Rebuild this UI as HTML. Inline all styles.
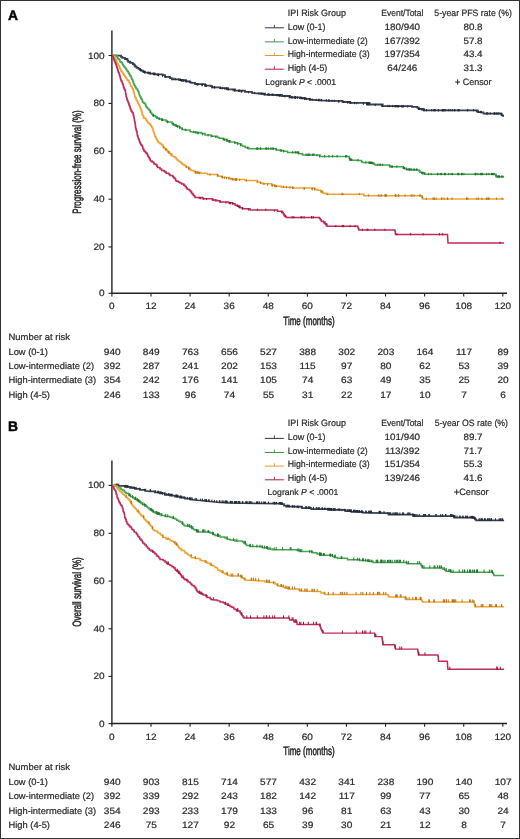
<!DOCTYPE html>
<html><head><meta charset="utf-8"><title>Kaplan-Meier curves by IPI risk group</title>
<style>html,body{margin:0;padding:0;background:#fff;} body{width:520px;height:839px;overflow:hidden;font-family:"Liberation Sans", sans-serif;} svg{display:block;filter:blur(0.3px);} text{text-rendering:geometricPrecision;}</style>
</head><body>
<svg width="520" height="839" viewBox="0 0 520 839" font-family='"Liberation Sans", sans-serif' fill="#2b2b2b" stroke="#2b2b2b" stroke-width="0.22">
<rect x="0" y="0" width="520" height="839" fill="#fff" stroke="none"/>
<text x="8" y="20.2" font-size="13.8" font-weight="bold" fill="#000" stroke="#000" stroke-width="0.45">A</text>
<line x1="111.9" y1="30.6" x2="111.9" y2="294.1" stroke="#222" stroke-width="1.4"/>
<line x1="111.2" y1="293.3" x2="507" y2="293.3" stroke="#222" stroke-width="1.5"/>
<line x1="108.5" y1="55.50" x2="111.9" y2="55.50" stroke="#222" stroke-width="1.1"/>
<text transform="translate(104.60 58.50) scale(1.09 1)" font-size="9.2" text-anchor="end">100</text>
<line x1="108.5" y1="103.45" x2="111.9" y2="103.45" stroke="#222" stroke-width="1.1"/>
<text transform="translate(104.60 106.45) scale(1.09 1)" font-size="9.2" text-anchor="end">80</text>
<line x1="108.5" y1="151.35" x2="111.9" y2="151.35" stroke="#222" stroke-width="1.1"/>
<text transform="translate(104.60 154.35) scale(1.09 1)" font-size="9.2" text-anchor="end">60</text>
<line x1="108.5" y1="199.20" x2="111.9" y2="199.20" stroke="#222" stroke-width="1.1"/>
<text transform="translate(104.60 202.20) scale(1.09 1)" font-size="9.2" text-anchor="end">40</text>
<line x1="108.5" y1="246.95" x2="111.9" y2="246.95" stroke="#222" stroke-width="1.1"/>
<text transform="translate(104.60 249.95) scale(1.09 1)" font-size="9.2" text-anchor="end">20</text>
<line x1="108.5" y1="293.30" x2="111.9" y2="293.30" stroke="#222" stroke-width="1.1"/>
<text transform="translate(104.60 296.30) scale(1.09 1)" font-size="9.2" text-anchor="end">0</text>
<line x1="111.90" y1="293.3" x2="111.90" y2="296.5" stroke="#222" stroke-width="1.1"/>
<text transform="translate(111.90 309.20) scale(1.09 1)" font-size="9.2" text-anchor="middle">0</text>
<line x1="150.99" y1="293.3" x2="150.99" y2="296.5" stroke="#222" stroke-width="1.1"/>
<text transform="translate(150.99 309.20) scale(1.09 1)" font-size="9.2" text-anchor="middle">12</text>
<line x1="190.08" y1="293.3" x2="190.08" y2="296.5" stroke="#222" stroke-width="1.1"/>
<text transform="translate(190.08 309.20) scale(1.09 1)" font-size="9.2" text-anchor="middle">24</text>
<line x1="229.17" y1="293.3" x2="229.17" y2="296.5" stroke="#222" stroke-width="1.1"/>
<text transform="translate(229.17 309.20) scale(1.09 1)" font-size="9.2" text-anchor="middle">36</text>
<line x1="268.26" y1="293.3" x2="268.26" y2="296.5" stroke="#222" stroke-width="1.1"/>
<text transform="translate(268.26 309.20) scale(1.09 1)" font-size="9.2" text-anchor="middle">48</text>
<line x1="307.35" y1="293.3" x2="307.35" y2="296.5" stroke="#222" stroke-width="1.1"/>
<text transform="translate(307.35 309.20) scale(1.09 1)" font-size="9.2" text-anchor="middle">60</text>
<line x1="346.44" y1="293.3" x2="346.44" y2="296.5" stroke="#222" stroke-width="1.1"/>
<text transform="translate(346.44 309.20) scale(1.09 1)" font-size="9.2" text-anchor="middle">72</text>
<line x1="385.53" y1="293.3" x2="385.53" y2="296.5" stroke="#222" stroke-width="1.1"/>
<text transform="translate(385.53 309.20) scale(1.09 1)" font-size="9.2" text-anchor="middle">84</text>
<line x1="424.62" y1="293.3" x2="424.62" y2="296.5" stroke="#222" stroke-width="1.1"/>
<text transform="translate(424.62 309.20) scale(1.09 1)" font-size="9.2" text-anchor="middle">96</text>
<line x1="463.71" y1="293.3" x2="463.71" y2="296.5" stroke="#222" stroke-width="1.1"/>
<text transform="translate(463.71 309.20) scale(1.09 1)" font-size="9.2" text-anchor="middle">108</text>
<line x1="502.80" y1="293.3" x2="502.80" y2="296.5" stroke="#222" stroke-width="1.1"/>
<text transform="translate(502.80 309.20) scale(1.09 1)" font-size="9.2" text-anchor="middle">120</text>
<text transform="translate(309.00 324.90) scale(0.668 1)" font-size="12.0" text-anchor="middle" stroke="#262626" stroke-width="0.5">Time (months)</text>
<text transform="translate(80.9 162.0) rotate(-90) scale(0.668 1)" text-anchor="middle" font-size="12.0" stroke="#262626" stroke-width="0.5">Progression-free survival (%)</text>
<text transform="translate(287.70 16.00) scale(0.975 1)" font-size="9.2">IPI Risk Group</text>
<text transform="translate(402.30 15.60) scale(0.925 1)" font-size="9.2" text-anchor="middle">Event/Total</text>
<text transform="translate(473.10 15.60) scale(0.95 1)" font-size="9.2" text-anchor="middle">5-year PFS rate (%)</text>
<line x1="264.8" y1="27.80" x2="283.8" y2="27.80" stroke="#2f3646" stroke-width="1.0"/>
<line x1="274.4" y1="27.80" x2="274.4" y2="24.80" stroke="#2f3646" stroke-width="0.9"/>
<text transform="translate(287.70 29.90) scale(0.975 1)" font-size="9.2">Low (0-1)</text>
<text transform="translate(402.30 29.90) scale(1.07 1)" font-size="9.2" text-anchor="middle">180/940</text>
<text transform="translate(473.00 29.90) scale(1.07 1)" font-size="9.2" text-anchor="middle">80.8</text>
<line x1="264.8" y1="41.90" x2="283.8" y2="41.90" stroke="#3f9247" stroke-width="1.0"/>
<line x1="274.4" y1="41.90" x2="274.4" y2="38.90" stroke="#3f9247" stroke-width="0.9"/>
<text transform="translate(287.70 43.50) scale(0.95 1)" font-size="9.2">Low-intermediate (2)</text>
<text transform="translate(402.30 43.50) scale(1.07 1)" font-size="9.2" text-anchor="middle">167/392</text>
<text transform="translate(473.00 43.50) scale(1.07 1)" font-size="9.2" text-anchor="middle">57.8</text>
<line x1="264.8" y1="55.50" x2="283.8" y2="55.50" stroke="#e09a3a" stroke-width="1.0"/>
<line x1="274.4" y1="55.50" x2="274.4" y2="52.50" stroke="#e09a3a" stroke-width="0.9"/>
<text transform="translate(287.70 57.10) scale(0.95 1)" font-size="9.2">High-intermediate (3)</text>
<text transform="translate(402.30 57.10) scale(1.07 1)" font-size="9.2" text-anchor="middle">197/354</text>
<text transform="translate(473.00 57.10) scale(1.07 1)" font-size="9.2" text-anchor="middle">43.4</text>
<line x1="264.8" y1="69.20" x2="283.8" y2="69.20" stroke="#b01e48" stroke-width="1.0"/>
<line x1="274.4" y1="69.20" x2="274.4" y2="66.20" stroke="#b01e48" stroke-width="0.9"/>
<text transform="translate(287.70 70.70) scale(0.97 1)" font-size="9.2">High (4-5)</text>
<text transform="translate(402.30 70.70) scale(1.07 1)" font-size="9.2" text-anchor="middle">64/246</text>
<text transform="translate(473.00 70.70) scale(1.07 1)" font-size="9.2" text-anchor="middle">31.3</text>
<text transform="translate(265.30 84.80) scale(1.015 1)" font-size="8.5">Logrank <tspan font-style="italic">P</tspan> &lt; .0001</text>
<text transform="translate(473.30 84.50) scale(0.97 1)" font-size="9.2" text-anchor="middle"><tspan stroke="#2b2b2b" stroke-width="0.45">+</tspan> Censor</text>
<polyline points="112.00,55.40 117.00,55.60 121.00,55.60 121.00,56.80 122.29,56.80 122.29,57.85 125.00,57.85 125.00,59.00 127.43,59.00 127.43,60.70 128.22,60.70 128.22,61.75 130.00,61.75 130.00,62.50 130.64,62.50 130.64,62.96 132.91,62.96 132.91,64.14 134.30,64.14 134.30,65.23 135.00,65.23 135.00,66.50 136.57,66.50 136.57,67.93 138.46,67.93 138.46,68.88 140.00,68.88 140.00,69.80 141.04,69.80 141.04,70.54 142.84,70.54 142.84,71.59 145.00,71.59 145.00,72.60 150.00,72.60 150.00,73.60 155.00,73.60 155.00,74.40 162.69,74.40 162.69,75.09 165.00,75.09 165.00,76.80 170.00,76.80 170.00,78.20 171.88,78.20 171.88,79.41 180.00,79.41 180.00,80.10 186.12,80.10 186.12,81.30 190.00,81.30 190.00,82.30 191.27,82.30 191.27,82.95 195.00,82.95 195.00,84.20 205.00,84.20 205.00,85.60 210.66,85.60 210.66,86.20 212.00,86.20 212.00,87.30 220.00,87.30 220.00,88.10 228.00,88.10 228.00,89.40 235.00,89.40 235.00,90.60 245.00,90.60 245.00,91.90 252.00,91.90 252.00,93.00 260.00,93.60 265.00,93.60 265.00,94.60 275.00,95.00 282.00,95.00 282.00,96.00 290.00,96.00 290.00,97.40 300.00,97.40 300.00,98.10 305.00,98.10 305.00,98.80 310.00,98.80 310.00,99.70 320.00,100.30 330.00,100.80 342.50,100.80 342.50,102.00 350.00,102.00 350.00,102.90 369.60,102.90 369.60,104.50 382.70,104.50 382.70,106.10 412.00,106.10 412.00,106.80 417.20,106.80 417.20,107.70 418.60,107.70 418.60,108.80 423.80,108.80 423.80,110.40 473.80,110.40 477.70,110.40 477.70,111.90 481.50,112.30 483.50,112.30 483.50,113.70 500.80,113.70 501.62,113.70 501.62,115.03 502.70,115.03 502.70,115.80 504.00,115.80" fill="none" stroke="#384152" stroke-width="1.8" stroke-linejoin="miter"/>
<path d="M140.2 70.8v-2.3M140.5 71.0v-2.3M141.0 71.3v-2.3M143.6 72.7v-2.3M144.0 73.0v-2.3M144.6 73.3v-2.3M148.2 74.1v-2.3M148.4 74.2v-2.3M150.0 74.5v-2.3M153.2 75.0v-2.3M153.9 75.1v-2.3M154.0 75.1v-2.3M154.2 75.2v-2.3M157.3 75.8v-2.3M158.3 76.1v-2.3M158.5 76.1v-2.3M158.6 76.2v-2.3M162.6 77.1v-2.3M165.4 77.8v-2.3M173.9 79.8v-2.3M175.7 80.2v-2.3M178.7 80.7v-2.3M180.4 81.1v-2.3M181.3 81.3v-2.3M181.5 81.3v-2.3M181.6 81.4v-2.3M181.8 81.4v-2.3M182.4 81.5v-2.3M183.3 81.7v-2.3M183.9 81.9v-2.3M185.4 82.2v-2.3M186.8 82.5v-2.3M189.2 83.0v-2.3M197.1 85.4v-2.3M197.3 85.4v-2.3M198.1 85.5v-2.3M202.0 86.1v-2.3M202.2 86.1v-2.3M202.3 86.1v-2.3M205.1 86.5v-2.3M206.0 86.7v-2.3M206.1 86.8v-2.3M206.2 86.8v-2.3M212.3 88.2v-2.3M214.3 88.4v-2.3M214.7 88.5v-2.3M220.7 89.1v-2.3M222.2 89.4v-2.3M224.8 89.8v-2.3M226.3 90.0v-2.3M226.4 90.0v-2.3M227.7 90.2v-2.3M228.2 90.3v-2.3M233.1 91.2v-2.3M234.2 91.4v-2.3M234.6 91.4v-2.3M238.9 92.0v-2.3M239.0 92.0v-2.3M239.2 92.0v-2.3M241.2 92.3v-2.3M241.3 92.3v-2.3M241.6 92.4v-2.3M241.9 92.4v-2.3M248.6 93.4v-2.3M254.7 94.1v-2.3M258.9 94.4v-2.3M260.9 94.7v-2.3M261.8 94.9v-2.3M262.9 95.1v-2.3M264.1 95.3v-2.3M264.2 95.3v-2.3M268.1 95.6v-2.3M268.2 95.6v-2.3M269.2 95.7v-2.3M272.1 95.8v-2.3M273.0 95.8v-2.3M276.8 96.2v-2.3M277.8 96.3v-2.3M279.0 96.5v-2.3M279.5 96.5v-2.3M280.2 96.6v-2.3M280.2 96.6v-2.3M284.8 97.4v-2.3M289.2 98.2v-2.3M289.7 98.2v-2.3M291.5 98.4v-2.3M292.7 98.5v-2.3M294.7 98.6v-2.3M295.2 98.7v-2.3M295.5 98.7v-2.3M295.6 98.7v-2.3M297.4 98.8v-2.3M300.9 99.1v-2.3M301.0 99.1v-2.3M301.6 99.2v-2.3M302.7 99.4v-2.3M304.2 99.6v-2.3M304.6 99.6v-2.3M305.0 99.7v-2.3M306.3 99.9v-2.3M309.3 100.5v-2.3M310.2 100.6v-2.3M312.1 100.7v-2.3M316.2 101.0v-2.3M318.5 101.1v-2.3M318.9 101.1v-2.3M319.9 101.2v-2.3M321.5 101.3v-2.3M326.3 101.5v-2.3M328.9 101.6v-2.3M329.0 101.6v-2.3M331.9 101.9v-2.3M334.4 102.1v-2.3M338.6 102.5v-2.3M339.0 102.6v-2.3M343.8 103.1v-2.3M347.6 103.5v-2.3M347.8 103.5v-2.3M350.1 103.8v-2.3M350.9 103.9v-2.3M354.5 104.2v-2.3M356.7 104.3v-2.3M363.4 104.9v-2.3M366.6 105.2v-2.3M366.7 105.2v-2.3M366.8 105.2v-2.3M367.5 105.2v-2.3M367.7 105.2v-2.3M367.8 105.3v-2.3M368.5 105.3v-2.3M369.0 105.3v-2.3M375.3 106.1v-2.3M381.8 106.9v-2.3M382.3 107.0v-2.3M387.9 107.1v-2.3M389.7 107.2v-2.3M392.6 107.2v-2.3M395.1 107.3v-2.3M395.4 107.3v-2.3M396.4 107.3v-2.3M397.7 107.4v-2.3M398.0 107.4v-2.3M398.8 107.4v-2.3M401.5 107.4v-2.3M402.5 107.5v-2.3M403.6 107.5v-2.3M407.7 107.6v-2.3M418.5 109.7v-2.3M418.8 109.8v-2.3M419.9 110.1v-2.3M421.7 110.7v-2.3M423.0 111.1v-2.3M424.1 111.3v-2.3M426.5 111.3v-2.3M431.7 111.3v-2.3M433.9 111.3v-2.3M434.2 111.3v-2.3M435.3 111.3v-2.3M438.3 111.3v-2.3M438.6 111.3v-2.3M442.2 111.3v-2.3M442.8 111.3v-2.3M442.9 111.3v-2.3M443.8 111.3v-2.3M444.3 111.3v-2.3M445.7 111.3v-2.3M448.3 111.3v-2.3M450.2 111.3v-2.3M452.2 111.3v-2.3M454.4 111.3v-2.3M454.9 111.3v-2.3M458.0 111.3v-2.3M458.8 111.3v-2.3M459.0 111.3v-2.3M467.4 111.3v-2.3M467.7 111.3v-2.3M473.6 111.3v-2.3M476.4 112.3v-2.3M478.6 112.9v-2.3M480.4 113.1v-2.3M481.5 113.2v-2.3M486.3 114.6v-2.3M487.2 114.6v-2.3M487.8 114.6v-2.3M490.3 114.6v-2.3M494.0 114.6v-2.3M494.8 114.6v-2.3M494.8 114.6v-2.3M496.6 114.6v-2.3M497.9 114.6v-2.3M499.0 114.6v-2.3M501.0 114.9v-2.3M501.6 115.5v-2.3" fill="none" stroke="#232a36" stroke-width="1.0"/>
<polyline points="112.00,55.40 117.00,55.40 117.00,57.00 117.49,57.00 117.49,57.76 117.81,57.76 117.81,58.65 118.95,58.65 118.95,59.66 119.95,59.66 119.95,61.73 121.00,61.73 121.00,62.50 122.23,62.50 122.23,63.43 122.50,63.43 122.50,64.51 123.29,64.51 123.29,65.71 124.00,65.71 124.00,67.00 125.12,67.00 125.12,68.01 125.78,68.01 125.78,69.05 126.51,69.05 126.51,70.02 127.00,70.02 127.00,71.00 127.93,71.00 127.93,71.66 128.40,71.66 128.40,72.81 128.98,72.81 128.98,73.80 129.48,73.80 129.48,74.80 130.00,74.80 130.00,76.00 131.12,76.00 131.12,77.58 131.42,77.58 131.42,78.44 131.84,78.44 131.84,79.59 132.64,79.59 132.64,80.94 133.00,80.94 133.00,82.00 133.44,82.00 133.44,83.79 134.17,83.79 134.17,85.19 135.02,85.19 135.02,86.12 135.34,86.12 135.34,87.39 136.00,87.39 136.00,88.00 136.45,88.00 136.45,89.03 137.56,89.03 137.56,90.48 138.08,90.48 138.08,91.41 138.77,91.41 138.77,92.50 139.00,92.50 139.00,94.00 139.51,94.00 139.51,95.74 140.16,95.74 140.16,96.74 140.78,96.74 140.78,98.17 141.37,98.17 141.37,99.03 142.00,99.03 142.00,100.00 142.43,100.00 142.43,101.58 142.65,101.58 142.65,102.22 143.81,102.22 143.81,103.22 145.00,103.22 145.00,104.00 145.54,104.00 145.54,104.85 145.85,104.85 145.85,105.91 146.39,105.91 146.39,107.28 147.32,107.28 147.32,108.26 148.00,108.26 148.00,109.00 149.05,109.00 149.05,110.21 150.18,110.21 150.18,111.24 150.57,111.24 150.57,112.15 151.00,112.15 151.00,113.00 151.74,113.00 151.74,114.31 153.00,114.31 153.00,115.50 155.49,115.50 155.49,117.05 157.00,117.05 157.00,118.00 158.78,118.00 158.78,119.07 162.00,119.07 162.00,120.00 166.11,120.00 166.11,121.12 167.00,121.12 167.00,122.00 172.00,122.00 172.00,123.50 173.36,123.50 173.36,124.87 176.00,124.87 176.00,126.00 179.08,126.00 179.08,126.79 180.00,126.79 180.00,128.00 182.04,128.00 182.04,129.44 185.00,129.44 185.00,130.00 190.00,130.00 190.00,131.50 192.50,132.00 196.81,132.00 196.81,132.62 201.55,132.62 201.55,133.54 205.00,133.54 205.00,135.00 211.12,135.00 211.12,136.20 217.50,136.20 217.50,137.50 219.28,137.50 219.28,138.32 223.36,138.32 223.36,139.15 226.89,139.15 226.89,140.68 230.00,140.68 230.00,142.00 234.95,142.00 234.95,142.81 237.50,142.81 237.50,143.75 241.10,143.75 241.10,145.18 242.50,145.18 242.50,146.25 245.12,146.25 245.12,147.59 248.75,147.59 248.75,148.75 272.50,148.75 276.29,148.75 276.29,150.06 280.00,150.06 280.00,150.50 283.49,150.50 283.49,151.15 287.50,151.15 287.50,152.50 297.50,152.50 298.61,152.50 298.61,153.66 302.50,153.66 302.50,155.00 315.00,155.00 320.00,155.00 320.00,156.50 348.75,156.50 349.18,156.50 349.18,158.35 349.80,158.35 349.80,159.17 350.00,159.17 350.00,160.00 360.00,160.50 361.52,160.50 361.52,161.78 362.50,161.78 362.50,162.50 372.50,162.50 372.50,163.25 374.03,163.25 374.03,164.15 375.00,164.15 375.00,165.00 388.75,165.00 389.51,165.00 389.51,166.00 390.00,166.00 390.00,166.75 401.25,166.75 403.25,166.75 403.25,168.26 406.25,168.26 406.25,169.50 418.75,170.00 419.03,170.00 419.03,171.05 420.00,171.05 420.00,172.50 423.26,172.50 423.26,173.07 425.00,173.07 425.00,174.25 495.00,174.25 495.75,174.25 495.75,175.25 496.25,175.25 496.25,176.75 504.00,176.75" fill="none" stroke="#46a64e" stroke-width="1.55" stroke-linejoin="miter"/>
<path d="M150.3 113.0v-2.3M153.1 116.5v-2.3M153.6 116.8v-2.3M153.7 116.9v-2.3M157.0 118.9v-2.3M159.3 119.8v-2.3M161.9 120.9v-2.3M161.9 120.9v-2.3M162.1 121.0v-2.3M162.6 121.1v-2.3M167.7 123.1v-2.3M167.7 123.1v-2.3M173.2 125.1v-2.3M173.2 125.2v-2.3M174.9 126.2v-2.3M176.3 127.0v-2.3M177.5 127.7v-2.3M179.5 128.6v-2.3M182.2 129.8v-2.3M185.8 131.1v-2.3M193.7 133.2v-2.3M195.3 133.6v-2.3M197.3 134.1v-2.3M198.2 134.3v-2.3M202.7 135.3v-2.3M208.1 136.5v-2.3M211.8 137.3v-2.3M215.8 138.1v-2.3M223.3 140.5v-2.3M224.4 140.9v-2.3M226.2 141.5v-2.3M227.4 142.0v-2.3M228.8 142.5v-2.3M229.6 142.8v-2.3M234.9 144.0v-2.3M237.6 144.7v-2.3M240.5 146.2v-2.3M247.4 149.1v-2.3M257.0 149.7v-2.3M257.2 149.7v-2.3M257.9 149.7v-2.3M260.3 149.7v-2.3M260.7 149.7v-2.3M265.8 149.7v-2.3M266.5 149.7v-2.3M268.2 149.7v-2.3M270.9 149.7v-2.3M272.3 149.7v-2.3M273.3 149.8v-2.3M276.1 150.5v-2.3M280.8 151.6v-2.3M281.3 151.8v-2.3M283.6 152.4v-2.3M292.7 153.4v-2.3M295.3 153.4v-2.3M296.0 153.4v-2.3M297.9 153.6v-2.3M297.9 153.6v-2.3M298.6 154.0v-2.3M306.1 155.9v-2.3M307.1 155.9v-2.3M308.8 155.9v-2.3M308.9 155.9v-2.3M309.8 155.9v-2.3M312.4 155.9v-2.3M313.1 155.9v-2.3M314.2 155.9v-2.3M317.1 156.5v-2.3M319.6 157.3v-2.3M324.6 157.4v-2.3M328.9 157.4v-2.3M332.6 157.4v-2.3M337.1 157.4v-2.3M345.6 157.4v-2.3M346.6 157.4v-2.3M349.6 159.7v-2.3M350.2 160.9v-2.3M351.1 161.0v-2.3M351.7 161.0v-2.3M351.7 161.0v-2.3M357.9 161.3v-2.3M365.8 163.6v-2.3M369.2 163.9v-2.3M369.2 163.9v-2.3M370.0 164.0v-2.3M370.4 164.0v-2.3M371.5 164.1v-2.3M371.9 164.1v-2.3M373.0 164.5v-2.3M377.3 165.9v-2.3M379.2 165.9v-2.3M380.4 165.9v-2.3M382.7 165.9v-2.3M389.8 167.4v-2.3M391.6 167.7v-2.3M392.4 167.7v-2.3M396.9 167.7v-2.3M403.4 168.9v-2.3M403.9 169.1v-2.3M404.5 169.4v-2.3M406.7 170.4v-2.3M408.0 170.5v-2.3M409.0 170.5v-2.3M409.7 170.5v-2.3M410.1 170.6v-2.3M411.3 170.6v-2.3M413.2 170.7v-2.3M414.6 170.7v-2.3M416.4 170.8v-2.3M417.1 170.8v-2.3M421.6 173.9v-2.3M422.5 174.3v-2.3M422.9 174.4v-2.3M424.3 174.9v-2.3M428.6 175.2v-2.3M431.2 175.2v-2.3M437.7 175.2v-2.3M437.8 175.2v-2.3M440.4 175.2v-2.3M441.7 175.2v-2.3M444.4 175.2v-2.3M444.8 175.2v-2.3M445.5 175.2v-2.3M448.7 175.2v-2.3M451.2 175.2v-2.3M452.6 175.2v-2.3M457.8 175.2v-2.3M458.1 175.2v-2.3M458.8 175.2v-2.3M461.5 175.2v-2.3M462.3 175.2v-2.3M463.9 175.2v-2.3M475.1 175.2v-2.3M475.3 175.2v-2.3M475.5 175.2v-2.3M476.1 175.2v-2.3M478.0 175.2v-2.3M480.4 175.2v-2.3M481.6 175.2v-2.3M481.8 175.2v-2.3M482.7 175.2v-2.3M486.6 175.2v-2.3M488.9 175.2v-2.3M491.5 175.2v-2.3M492.5 175.2v-2.3M493.8 175.2v-2.3M494.1 175.2v-2.3M496.1 177.4v-2.3M497.6 177.7v-2.3M498.8 177.7v-2.3M499.0 177.7v-2.3M499.2 177.7v-2.3M501.4 177.7v-2.3M502.8 177.7v-2.3" fill="none" stroke="#23742f" stroke-width="1.0"/>
<polyline points="112.00,55.40 113.44,55.40 113.44,56.74 114.51,56.74 114.51,57.68 115.00,57.68 115.00,59.00 115.98,59.00 115.98,60.04 116.58,60.04 116.58,61.45 116.79,61.45 116.79,62.31 117.10,62.31 117.10,63.63 118.00,63.63 118.00,65.00 118.87,65.00 118.87,66.22 119.70,66.22 119.70,67.42 119.94,67.42 119.94,68.66 120.66,68.66 120.66,69.91 121.00,69.91 121.00,71.00 121.79,71.00 121.79,71.87 122.51,71.87 122.51,72.52 123.00,72.52 123.00,74.00 123.81,74.00 123.81,75.16 124.67,75.16 124.67,76.38 125.35,76.38 125.35,77.06 126.00,77.06 126.00,78.00 126.65,78.00 126.65,79.10 126.96,79.10 126.96,80.12 128.10,80.12 128.10,80.67 129.00,80.67 129.00,82.00 129.23,82.00 129.23,82.85 130.16,82.85 130.16,84.23 130.53,84.23 130.53,85.72 131.11,85.72 131.11,86.50 132.00,86.50 132.00,88.00 132.51,88.00 132.51,88.67 133.02,88.67 133.02,89.59 133.33,89.59 133.33,90.44 133.59,90.44 133.59,92.25 134.00,92.25 134.00,93.00 134.18,93.00 134.18,93.97 134.59,93.97 134.59,95.28 134.83,95.28 134.83,97.04 135.42,97.04 135.42,97.69 136.00,97.69 136.00,99.00 136.20,99.00 136.20,99.64 136.87,99.64 136.87,100.81 137.64,100.81 137.64,102.39 138.00,102.39 138.00,103.00 138.53,103.00 138.53,104.55 139.12,104.55 139.12,105.11 139.34,105.11 139.34,105.98 140.00,105.98 140.00,107.50 140.37,107.50 140.37,108.24 140.88,108.24 140.88,109.65 141.46,109.65 141.46,111.00 141.81,111.00 141.81,112.29 142.00,112.29 142.00,113.00 142.21,113.00 142.21,114.33 142.60,114.33 142.60,115.15 143.08,115.15 143.08,116.27 143.50,116.27 143.50,117.00 143.93,117.00 143.93,118.18 145.75,118.18 145.75,119.30 146.23,119.30 146.23,120.46 147.00,120.46 147.00,121.50 147.79,121.50 147.79,122.85 149.17,122.85 149.17,123.68 150.00,123.68 150.00,124.50 150.76,124.50 150.76,125.71 151.64,125.71 151.64,126.95 152.00,126.95 152.00,127.50 152.48,127.50 152.48,128.39 152.90,128.39 152.90,129.54 153.05,129.54 153.05,130.61 153.40,130.61 153.40,131.73 154.00,131.73 154.00,133.00 154.14,133.00 154.14,133.71 154.58,133.71 154.58,135.32 154.82,135.32 154.82,136.37 155.50,136.37 155.50,136.96 156.00,136.96 156.00,138.00 156.50,138.00 156.50,139.30 157.10,139.30 157.10,140.54 157.68,140.54 157.68,141.40 158.26,141.40 158.26,142.33 159.00,142.33 159.00,143.00 160.36,143.00 160.36,143.98 161.75,143.98 161.75,144.97 163.00,144.97 163.00,146.50 163.28,146.50 163.28,147.41 164.59,147.41 164.59,148.53 165.53,148.53 165.53,149.61 167.00,149.61 167.00,151.00 168.29,151.00 168.29,152.01 169.59,152.01 169.59,153.19 170.46,153.19 170.46,153.79 171.70,153.79 171.70,154.39 172.00,154.39 172.00,156.00 173.26,156.00 173.26,156.87 174.99,156.87 174.99,157.79 176.26,157.79 176.26,159.18 177.00,159.18 177.00,160.00 178.29,160.00 178.29,160.90 179.60,160.90 179.60,161.78 180.73,161.78 180.73,162.86 182.00,162.86 182.00,164.00 183.47,164.00 183.47,165.04 185.16,165.04 185.16,166.00 186.00,166.00 186.00,167.00 188.65,167.00 188.65,168.22 190.00,168.22 190.00,169.50 190.89,169.50 190.89,170.58 193.88,170.58 193.88,171.27 195.00,171.27 195.00,172.50 201.11,172.50 201.11,173.33 207.50,173.33 207.50,174.50 217.50,174.50 217.50,175.50 218.63,175.50 218.63,176.18 222.50,176.18 222.50,177.50 229.57,177.50 229.57,178.48 232.50,178.48 232.50,179.50 245.00,179.50 245.00,180.50 257.50,180.50 257.50,182.00 260.18,182.00 260.18,182.92 262.50,182.92 262.50,183.75 271.78,183.75 271.78,185.09 275.00,185.09 275.00,186.25 281.32,186.25 281.32,187.18 292.50,187.18 292.50,188.00 315.00,188.00 315.00,189.50 317.44,189.50 317.44,190.29 320.77,190.29 320.77,190.94 322.50,190.94 322.50,192.50 323.54,192.50 323.54,193.34 326.25,193.34 326.25,194.25 362.50,194.25 363.75,194.25 363.75,195.70 421.25,195.70 421.89,195.70 421.89,197.14 422.26,197.14 422.26,198.08 423.00,198.08 423.00,198.90 504.00,198.90" fill="none" stroke="#eea535" stroke-width="1.5" stroke-linejoin="miter"/>
<path d="M163.7 148.2v-2.3M165.6 150.3v-2.3M165.9 150.7v-2.3M168.1 153.0v-2.3M168.8 153.7v-2.3M170.9 155.8v-2.3M186.4 168.1v-2.3M188.5 169.4v-2.3M188.6 169.5v-2.3M189.1 169.8v-2.3M195.3 173.4v-2.3M195.7 173.5v-2.3M197.0 173.7v-2.3M197.2 173.7v-2.3M198.2 173.9v-2.3M199.4 174.1v-2.3M210.0 175.6v-2.3M217.4 176.4v-2.3M217.7 176.5v-2.3M221.7 178.1v-2.3M222.5 178.4v-2.3M224.6 178.8v-2.3M226.5 179.2v-2.3M228.8 179.7v-2.3M231.0 180.1v-2.3M232.5 180.4v-2.3M234.1 180.5v-2.3M235.4 180.6v-2.3M236.0 180.7v-2.3M236.6 180.7v-2.3M236.6 180.7v-2.3M239.7 181.0v-2.3M246.4 181.6v-2.3M257.2 182.9v-2.3M260.7 184.0v-2.3M263.9 184.9v-2.3M267.5 185.7v-2.3M271.9 186.5v-2.3M272.6 186.7v-2.3M274.5 187.0v-2.3M276.0 187.3v-2.3M276.3 187.3v-2.3M283.3 188.0v-2.3M286.4 188.3v-2.3M289.9 188.6v-2.3M292.7 188.9v-2.3M293.0 188.9v-2.3M304.1 189.7v-2.3M304.3 189.7v-2.3M311.9 190.2v-2.3M312.7 190.2v-2.3M314.6 190.4v-2.3M320.9 192.8v-2.3M322.1 193.2v-2.3M327.7 195.2v-2.3M342.0 195.2v-2.3M342.9 195.2v-2.3M359.4 195.2v-2.3M368.7 196.6v-2.3M378.3 196.6v-2.3M380.0 196.6v-2.3M381.4 196.6v-2.3M385.0 196.6v-2.3M385.1 196.6v-2.3M385.8 196.6v-2.3M386.4 196.6v-2.3M395.3 196.6v-2.3M395.6 196.6v-2.3M396.0 196.6v-2.3M398.2 196.6v-2.3M398.9 196.6v-2.3M405.1 196.6v-2.3M411.2 196.6v-2.3M412.0 196.6v-2.3M414.1 196.6v-2.3M419.9 196.6v-2.3M420.0 196.6v-2.3M422.0 198.0v-2.3M422.3 198.4v-2.3M426.3 199.8v-2.3M433.0 199.8v-2.3M434.1 199.8v-2.3M434.2 199.8v-2.3M436.1 199.8v-2.3M441.6 199.8v-2.3M441.6 199.8v-2.3M444.1 199.8v-2.3M447.3 199.8v-2.3M447.7 199.8v-2.3M452.1 199.8v-2.3M466.6 199.8v-2.3M466.7 199.8v-2.3M467.8 199.8v-2.3M476.8 199.8v-2.3M478.5 199.8v-2.3M481.9 199.8v-2.3M486.5 199.8v-2.3M487.9 199.8v-2.3M488.3 199.8v-2.3M489.1 199.8v-2.3M496.4 199.8v-2.3M502.0 199.8v-2.3" fill="none" stroke="#b8741a" stroke-width="1.0"/>
<polyline points="112.00,55.40 112.71,55.40 112.71,56.68 113.04,56.68 113.04,57.57 113.53,57.57 113.53,58.76 114.00,58.76 114.00,60.00 114.49,60.00 114.49,60.64 114.77,60.64 114.77,61.53 115.16,61.53 115.16,62.63 115.72,62.63 115.72,63.82 116.00,63.82 116.00,65.00 116.48,65.00 116.48,66.65 116.94,66.65 116.94,67.53 117.29,67.53 117.29,68.69 117.75,68.69 117.75,70.36 118.00,70.36 118.00,71.00 118.28,71.00 118.28,72.32 118.84,72.32 118.84,73.12 119.14,73.12 119.14,74.44 119.62,74.44 119.62,75.64 120.00,75.64 120.00,77.00 120.37,77.00 120.37,78.16 120.53,78.16 120.53,79.30 120.96,79.30 120.96,80.50 121.47,80.50 121.47,81.25 122.00,81.25 122.00,82.50 122.46,82.50 122.46,83.66 122.95,83.66 122.95,84.85 123.33,84.85 123.33,86.32 123.53,86.32 123.53,87.33 124.00,87.33 124.00,88.50 124.44,88.50 124.44,89.25 124.88,89.25 124.88,90.12 125.27,90.12 125.27,91.32 125.56,91.32 125.56,92.79 125.70,92.79 125.70,94.26 126.00,94.26 126.00,95.00 126.11,95.00 126.11,96.38 126.53,96.38 126.53,97.68 126.80,97.68 126.80,98.73 127.05,98.73 127.05,99.85 127.44,99.85 127.44,100.82 128.00,100.82 128.00,102.00 128.21,102.00 128.21,102.68 128.71,102.68 128.71,103.98 129.11,103.98 129.11,105.21 129.46,105.21 129.46,105.92 130.00,105.92 130.00,107.50 130.34,107.50 130.34,109.11 130.88,109.11 130.88,109.94 131.22,109.94 131.22,110.92 132.00,110.92 132.00,112.00 132.51,112.00 132.51,112.85 133.08,112.85 133.08,113.75 133.32,113.75 133.32,115.10 133.55,115.10 133.55,116.35 134.00,116.35 134.00,118.00 134.28,118.00 134.28,118.77 134.39,118.77 134.39,120.21 134.63,120.21 134.63,121.55 134.83,121.55 134.83,122.45 135.11,122.45 135.11,123.14 135.18,123.14 135.18,124.56 135.36,124.56 135.36,125.83 135.50,125.83 135.50,127.00 135.61,127.00 135.61,127.90 135.89,127.90 135.89,128.95 136.22,128.95 136.22,130.70 136.66,130.70 136.66,131.39 137.00,131.39 137.00,133.00 137.17,133.00 137.17,134.62 137.40,134.62 137.40,135.66 137.90,135.66 137.90,136.90 138.16,136.90 138.16,138.05 138.50,138.05 138.50,139.00 138.88,139.00 138.88,139.66 139.26,139.66 139.26,140.97 139.70,140.97 139.70,142.31 140.07,142.31 140.07,143.05 140.50,143.05 140.50,144.00 140.95,144.00 140.95,145.04 142.05,145.04 142.05,146.04 142.50,146.04 142.50,146.77 142.76,146.77 142.76,147.88 143.00,147.88 143.00,149.00 143.68,149.00 143.68,150.23 144.16,150.23 144.16,151.23 145.32,151.23 145.32,152.30 146.00,152.30 146.00,153.00 146.64,153.00 146.64,153.60 147.37,153.60 147.37,154.70 147.82,154.70 147.82,156.02 148.50,156.02 148.50,157.00 148.75,157.00 148.75,157.54 149.48,157.54 149.48,159.01 150.19,159.01 150.19,160.17 150.50,160.17 150.50,161.00 152.08,161.00 152.08,161.89 153.67,161.89 153.67,163.07 154.00,163.07 154.00,164.00 155.79,164.00 155.79,164.80 156.89,164.80 156.89,166.25 157.50,166.25 157.50,167.50 160.00,167.50 160.00,169.00 161.63,169.00 161.63,170.62 164.10,170.62 164.10,171.30 165.00,171.30 165.00,172.00 166.23,172.00 166.23,173.19 168.99,173.19 168.99,174.55 170.00,174.55 170.00,175.50 172.79,175.50 172.79,176.74 173.78,176.74 173.78,178.11 175.00,178.11 175.00,179.00 175.69,179.00 175.69,180.64 176.77,180.64 176.77,181.31 178.46,181.31 178.46,182.36 180.00,182.36 180.00,183.00 181.58,183.00 181.58,184.06 183.83,184.06 183.83,185.20 185.00,185.20 185.00,186.50 186.30,186.50 186.30,187.90 187.30,187.90 187.30,189.26 189.06,189.26 189.06,190.12 190.00,190.12 190.00,191.00 190.97,191.00 190.97,192.11 191.66,192.11 191.66,193.14 192.42,193.14 192.42,194.01 193.26,194.01 193.26,195.24 194.24,195.24 194.24,196.28 195.00,196.28 195.00,197.50 202.50,197.50 202.50,198.75 212.50,198.75 212.50,200.00 216.70,200.00 216.70,200.63 220.00,200.63 220.00,202.00 228.39,202.00 228.39,202.78 232.50,202.78 232.50,203.75 235.10,203.75 235.10,205.19 237.50,205.19 237.50,206.25 240.05,206.25 240.05,207.83 242.50,207.83 242.50,208.75 250.00,208.75 250.00,210.00 270.00,210.00 277.50,210.00 277.50,211.25 282.50,211.25 282.50,212.50 283.17,212.50 283.17,213.72 283.94,213.72 283.94,214.96 284.38,214.96 284.38,215.78 285.14,215.78 285.14,216.58 286.25,216.58 286.25,217.50 318.75,217.50 319.39,217.50 319.39,218.39 320.41,218.39 320.41,219.67 321.25,219.67 321.25,221.25 323.25,221.25 323.25,222.12 325.00,222.12 325.00,223.75 326.45,223.75 326.45,224.52 327.00,224.52 327.00,226.25 357.50,226.25 357.98,226.25 357.98,227.78 358.37,227.78 358.37,228.57 358.75,228.57 358.75,230.00 394.50,230.00 394.87,230.00 394.87,230.85 395.08,230.85 395.08,231.65 395.37,231.65 395.37,233.18 395.50,233.18 395.50,234.50 447.50,234.50 448.00,243.00 504.00,243.00" fill="none" stroke="#c02c58" stroke-width="1.5" stroke-linejoin="miter"/>
<path d="M199.2 199.1v-2.3M200.6 199.3v-2.3M203.6 199.8v-2.3M206.5 200.1v-2.3M213.1 201.1v-2.3M215.2 201.6v-2.3M220.2 202.9v-2.3M226.0 203.7v-2.3M229.4 204.2v-2.3M230.5 204.4v-2.3M232.7 204.7v-2.3M237.3 207.0v-2.3M238.4 207.6v-2.3M239.5 208.1v-2.3M242.4 209.6v-2.3M248.4 210.6v-2.3M257.4 210.9v-2.3M265.8 210.9v-2.3M274.6 211.7v-2.3M281.6 213.2v-2.3M285.1 216.8v-2.3M292.1 218.4v-2.3M293.8 218.4v-2.3M301.0 218.4v-2.3M301.9 218.4v-2.3M304.1 218.4v-2.3M311.6 218.4v-2.3M311.7 218.4v-2.3M313.3 218.4v-2.3M324.0 224.0v-2.3M325.8 225.6v-2.3M335.8 227.2v-2.3M342.3 227.2v-2.3M343.6 227.2v-2.3M350.1 227.2v-2.3M355.2 227.2v-2.3M362.3 230.9v-2.3M367.2 230.9v-2.3M367.9 230.9v-2.3M374.8 230.9v-2.3M385.0 230.9v-2.3M396.9 235.4v-2.3M410.6 235.4v-2.3M423.2 235.4v-2.3M439.4 235.4v-2.3M442.7 235.4v-2.3M500.0 243.9v-2.3" fill="none" stroke="#9c1539" stroke-width="1.0"/>
<text transform="translate(8.50 339.90) scale(1.03 1)" font-size="9.2">Number at risk</text>
<text transform="translate(8.50 354.60) scale(1.015 1)" font-size="9.2">Low (0-1)</text>
<text transform="translate(112.20 354.60) scale(1.1 1)" font-size="9.2" text-anchor="middle">940</text>
<text transform="translate(151.29 354.60) scale(1.1 1)" font-size="9.2" text-anchor="middle">849</text>
<text transform="translate(190.38 354.60) scale(1.1 1)" font-size="9.2" text-anchor="middle">763</text>
<text transform="translate(229.47 354.60) scale(1.1 1)" font-size="9.2" text-anchor="middle">656</text>
<text transform="translate(268.56 354.60) scale(1.1 1)" font-size="9.2" text-anchor="middle">527</text>
<text transform="translate(307.65 354.60) scale(1.1 1)" font-size="9.2" text-anchor="middle">388</text>
<text transform="translate(346.74 354.60) scale(1.1 1)" font-size="9.2" text-anchor="middle">302</text>
<text transform="translate(385.83 354.60) scale(1.1 1)" font-size="9.2" text-anchor="middle">203</text>
<text transform="translate(424.92 354.60) scale(1.1 1)" font-size="9.2" text-anchor="middle">164</text>
<text transform="translate(464.01 354.60) scale(1.1 1)" font-size="9.2" text-anchor="middle">117</text>
<text transform="translate(503.10 354.60) scale(1.1 1)" font-size="9.2" text-anchor="middle">89</text>
<text transform="translate(8.50 368.93) scale(1.015 1)" font-size="9.2">Low-intermediate (2)</text>
<text transform="translate(112.20 368.93) scale(1.1 1)" font-size="9.2" text-anchor="middle">392</text>
<text transform="translate(151.29 368.93) scale(1.1 1)" font-size="9.2" text-anchor="middle">287</text>
<text transform="translate(190.38 368.93) scale(1.1 1)" font-size="9.2" text-anchor="middle">241</text>
<text transform="translate(229.47 368.93) scale(1.1 1)" font-size="9.2" text-anchor="middle">202</text>
<text transform="translate(268.56 368.93) scale(1.1 1)" font-size="9.2" text-anchor="middle">153</text>
<text transform="translate(307.65 368.93) scale(1.1 1)" font-size="9.2" text-anchor="middle">115</text>
<text transform="translate(346.74 368.93) scale(1.1 1)" font-size="9.2" text-anchor="middle">97</text>
<text transform="translate(385.83 368.93) scale(1.1 1)" font-size="9.2" text-anchor="middle">80</text>
<text transform="translate(424.92 368.93) scale(1.1 1)" font-size="9.2" text-anchor="middle">62</text>
<text transform="translate(464.01 368.93) scale(1.1 1)" font-size="9.2" text-anchor="middle">53</text>
<text transform="translate(503.10 368.93) scale(1.1 1)" font-size="9.2" text-anchor="middle">39</text>
<text transform="translate(8.50 383.26) scale(1.015 1)" font-size="9.2">High-intermediate (3)</text>
<text transform="translate(112.20 383.26) scale(1.1 1)" font-size="9.2" text-anchor="middle">354</text>
<text transform="translate(151.29 383.26) scale(1.1 1)" font-size="9.2" text-anchor="middle">242</text>
<text transform="translate(190.38 383.26) scale(1.1 1)" font-size="9.2" text-anchor="middle">176</text>
<text transform="translate(229.47 383.26) scale(1.1 1)" font-size="9.2" text-anchor="middle">141</text>
<text transform="translate(268.56 383.26) scale(1.1 1)" font-size="9.2" text-anchor="middle">105</text>
<text transform="translate(307.65 383.26) scale(1.1 1)" font-size="9.2" text-anchor="middle">74</text>
<text transform="translate(346.74 383.26) scale(1.1 1)" font-size="9.2" text-anchor="middle">63</text>
<text transform="translate(385.83 383.26) scale(1.1 1)" font-size="9.2" text-anchor="middle">49</text>
<text transform="translate(424.92 383.26) scale(1.1 1)" font-size="9.2" text-anchor="middle">35</text>
<text transform="translate(464.01 383.26) scale(1.1 1)" font-size="9.2" text-anchor="middle">25</text>
<text transform="translate(503.10 383.26) scale(1.1 1)" font-size="9.2" text-anchor="middle">20</text>
<text transform="translate(8.50 397.59) scale(1.015 1)" font-size="9.2">High (4-5)</text>
<text transform="translate(112.20 397.59) scale(1.1 1)" font-size="9.2" text-anchor="middle">246</text>
<text transform="translate(151.29 397.59) scale(1.1 1)" font-size="9.2" text-anchor="middle">133</text>
<text transform="translate(190.38 397.59) scale(1.1 1)" font-size="9.2" text-anchor="middle">96</text>
<text transform="translate(229.47 397.59) scale(1.1 1)" font-size="9.2" text-anchor="middle">74</text>
<text transform="translate(268.56 397.59) scale(1.1 1)" font-size="9.2" text-anchor="middle">55</text>
<text transform="translate(307.65 397.59) scale(1.1 1)" font-size="9.2" text-anchor="middle">31</text>
<text transform="translate(346.74 397.59) scale(1.1 1)" font-size="9.2" text-anchor="middle">22</text>
<text transform="translate(385.83 397.59) scale(1.1 1)" font-size="9.2" text-anchor="middle">17</text>
<text transform="translate(424.92 397.59) scale(1.1 1)" font-size="9.2" text-anchor="middle">10</text>
<text transform="translate(464.01 397.59) scale(1.1 1)" font-size="9.2" text-anchor="middle">7</text>
<text transform="translate(503.10 397.59) scale(1.1 1)" font-size="9.2" text-anchor="middle">6</text>
<text x="8" y="430.5" font-size="13.8" font-weight="bold" fill="#000" stroke="#000" stroke-width="0.45">B</text>
<line x1="111.9" y1="460.4" x2="111.9" y2="724.4" stroke="#222" stroke-width="1.4"/>
<line x1="111.2" y1="723.6" x2="507" y2="723.6" stroke="#222" stroke-width="1.5"/>
<line x1="108.5" y1="485.40" x2="111.9" y2="485.40" stroke="#222" stroke-width="1.1"/>
<text transform="translate(104.60 488.40) scale(1.09 1)" font-size="9.2" text-anchor="end">100</text>
<line x1="108.5" y1="533.30" x2="111.9" y2="533.30" stroke="#222" stroke-width="1.1"/>
<text transform="translate(104.60 536.30) scale(1.09 1)" font-size="9.2" text-anchor="end">80</text>
<line x1="108.5" y1="581.10" x2="111.9" y2="581.10" stroke="#222" stroke-width="1.1"/>
<text transform="translate(104.60 584.10) scale(1.09 1)" font-size="9.2" text-anchor="end">60</text>
<line x1="108.5" y1="628.80" x2="111.9" y2="628.80" stroke="#222" stroke-width="1.1"/>
<text transform="translate(104.60 631.80) scale(1.09 1)" font-size="9.2" text-anchor="end">40</text>
<line x1="108.5" y1="676.40" x2="111.9" y2="676.40" stroke="#222" stroke-width="1.1"/>
<text transform="translate(104.60 679.40) scale(1.09 1)" font-size="9.2" text-anchor="end">20</text>
<line x1="108.5" y1="723.60" x2="111.9" y2="723.60" stroke="#222" stroke-width="1.1"/>
<text transform="translate(104.60 726.60) scale(1.09 1)" font-size="9.2" text-anchor="end">0</text>
<line x1="111.90" y1="723.6" x2="111.90" y2="726.8000000000001" stroke="#222" stroke-width="1.1"/>
<text transform="translate(111.90 739.60) scale(1.09 1)" font-size="9.2" text-anchor="middle">0</text>
<line x1="150.99" y1="723.6" x2="150.99" y2="726.8000000000001" stroke="#222" stroke-width="1.1"/>
<text transform="translate(150.99 739.60) scale(1.09 1)" font-size="9.2" text-anchor="middle">12</text>
<line x1="190.08" y1="723.6" x2="190.08" y2="726.8000000000001" stroke="#222" stroke-width="1.1"/>
<text transform="translate(190.08 739.60) scale(1.09 1)" font-size="9.2" text-anchor="middle">24</text>
<line x1="229.17" y1="723.6" x2="229.17" y2="726.8000000000001" stroke="#222" stroke-width="1.1"/>
<text transform="translate(229.17 739.60) scale(1.09 1)" font-size="9.2" text-anchor="middle">36</text>
<line x1="268.26" y1="723.6" x2="268.26" y2="726.8000000000001" stroke="#222" stroke-width="1.1"/>
<text transform="translate(268.26 739.60) scale(1.09 1)" font-size="9.2" text-anchor="middle">48</text>
<line x1="307.35" y1="723.6" x2="307.35" y2="726.8000000000001" stroke="#222" stroke-width="1.1"/>
<text transform="translate(307.35 739.60) scale(1.09 1)" font-size="9.2" text-anchor="middle">60</text>
<line x1="346.44" y1="723.6" x2="346.44" y2="726.8000000000001" stroke="#222" stroke-width="1.1"/>
<text transform="translate(346.44 739.60) scale(1.09 1)" font-size="9.2" text-anchor="middle">72</text>
<line x1="385.53" y1="723.6" x2="385.53" y2="726.8000000000001" stroke="#222" stroke-width="1.1"/>
<text transform="translate(385.53 739.60) scale(1.09 1)" font-size="9.2" text-anchor="middle">84</text>
<line x1="424.62" y1="723.6" x2="424.62" y2="726.8000000000001" stroke="#222" stroke-width="1.1"/>
<text transform="translate(424.62 739.60) scale(1.09 1)" font-size="9.2" text-anchor="middle">96</text>
<line x1="463.71" y1="723.6" x2="463.71" y2="726.8000000000001" stroke="#222" stroke-width="1.1"/>
<text transform="translate(463.71 739.60) scale(1.09 1)" font-size="9.2" text-anchor="middle">108</text>
<line x1="502.80" y1="723.6" x2="502.80" y2="726.8000000000001" stroke="#222" stroke-width="1.1"/>
<text transform="translate(502.80 739.60) scale(1.09 1)" font-size="9.2" text-anchor="middle">120</text>
<text transform="translate(309.00 755.30) scale(0.668 1)" font-size="12.0" text-anchor="middle" stroke="#262626" stroke-width="0.5">Time (months)</text>
<text transform="translate(80.9 592.0) rotate(-90) scale(0.668 1)" text-anchor="middle" font-size="12.0" stroke="#262626" stroke-width="0.5">Overall survival (%)</text>
<text transform="translate(287.70 426.30) scale(0.975 1)" font-size="9.2">IPI Risk Group</text>
<text transform="translate(402.30 425.90) scale(0.925 1)" font-size="9.2" text-anchor="middle">Event/Total</text>
<text transform="translate(471.40 425.90) scale(0.95 1)" font-size="9.2" text-anchor="middle">5-year OS rate (%)</text>
<line x1="264.8" y1="438.40" x2="283.8" y2="438.40" stroke="#2f3646" stroke-width="1.0"/>
<line x1="274.4" y1="438.40" x2="274.4" y2="435.40" stroke="#2f3646" stroke-width="0.9"/>
<text transform="translate(287.70 440.20) scale(0.975 1)" font-size="9.2">Low (0-1)</text>
<text transform="translate(402.30 440.20) scale(1.07 1)" font-size="9.2" text-anchor="middle">101/940</text>
<text transform="translate(473.00 440.20) scale(1.07 1)" font-size="9.2" text-anchor="middle">89.7</text>
<line x1="264.8" y1="452.50" x2="283.8" y2="452.50" stroke="#3f9247" stroke-width="1.0"/>
<line x1="274.4" y1="452.50" x2="274.4" y2="449.50" stroke="#3f9247" stroke-width="0.9"/>
<text transform="translate(287.70 453.80) scale(0.95 1)" font-size="9.2">Low-intermediate (2)</text>
<text transform="translate(402.30 453.80) scale(1.07 1)" font-size="9.2" text-anchor="middle">113/392</text>
<text transform="translate(473.00 453.80) scale(1.07 1)" font-size="9.2" text-anchor="middle">71.7</text>
<line x1="264.8" y1="466.10" x2="283.8" y2="466.10" stroke="#e09a3a" stroke-width="1.0"/>
<line x1="274.4" y1="466.10" x2="274.4" y2="463.10" stroke="#e09a3a" stroke-width="0.9"/>
<text transform="translate(287.70 467.40) scale(0.95 1)" font-size="9.2">High-intermediate (3)</text>
<text transform="translate(402.30 467.40) scale(1.07 1)" font-size="9.2" text-anchor="middle">151/354</text>
<text transform="translate(473.00 467.40) scale(1.07 1)" font-size="9.2" text-anchor="middle">55.3</text>
<line x1="264.8" y1="479.80" x2="283.8" y2="479.80" stroke="#b01e48" stroke-width="1.0"/>
<line x1="274.4" y1="479.80" x2="274.4" y2="476.80" stroke="#b01e48" stroke-width="0.9"/>
<text transform="translate(287.70 481.00) scale(0.97 1)" font-size="9.2">High (4-5)</text>
<text transform="translate(402.30 481.00) scale(1.07 1)" font-size="9.2" text-anchor="middle">139/246</text>
<text transform="translate(473.00 481.00) scale(1.07 1)" font-size="9.2" text-anchor="middle">41.6</text>
<text transform="translate(267.50 495.10) scale(1.015 1)" font-size="8.5">Logrank <tspan font-style="italic">P</tspan> &lt; .0001</text>
<text transform="translate(471.30 494.80) scale(0.99 1)" font-size="9.2" text-anchor="middle"><tspan stroke="#2b2b2b" stroke-width="0.45">+</tspan>Censor</text>
<polyline points="112.00,485.60 120.00,485.80 125.00,485.80 125.00,486.80 130.00,486.80 130.00,487.80 135.00,487.80 135.00,488.80 140.00,488.80 140.00,489.80 145.00,489.80 145.00,490.80 150.00,491.30 155.00,491.30 155.00,492.30 160.00,492.30 160.00,493.30 165.00,493.30 165.00,494.80 170.00,494.80 170.00,495.50 175.00,495.50 175.00,496.50 180.00,496.50 180.00,497.50 185.00,497.50 185.00,498.50 190.00,498.50 190.00,499.50 195.00,500.00 200.00,500.50 205.00,501.00 210.00,501.50 215.00,502.00 220.00,502.50 230.00,503.00 258.80,503.50 281.90,503.50 281.90,504.20 284.04,504.20 284.04,505.57 286.20,505.57 286.20,506.60 302.10,506.60 302.10,508.20 311.22,508.20 311.22,509.08 328.10,509.08 328.10,509.90 345.40,509.90 345.40,511.00 351.26,511.00 351.26,511.93 362.70,511.93 362.70,512.70 370.00,512.80 385.90,513.20 388.70,513.20 388.70,514.60 411.80,514.60 413.30,514.60 413.30,516.10 452.20,516.10 454.20,516.10 454.20,517.50 473.80,517.50 473.80,518.10 475.06,518.10 475.06,519.32 476.10,519.32 476.10,520.40 504.10,520.40" fill="none" stroke="#384152" stroke-width="1.75" stroke-linejoin="miter"/>
<path d="M115.0 486.0v-2.4M116.5 486.0v-2.4M117.5 486.0v-2.4M118.8 486.1v-2.4M125.4 487.2v-2.4M126.7 487.4v-2.4M127.1 487.5v-2.4M127.8 487.7v-2.4M127.9 487.7v-2.4M131.3 488.4v-2.4M133.0 488.7v-2.4M134.4 489.0v-2.4M136.2 489.3v-2.4M139.3 490.0v-2.4M144.9 491.1v-2.4M145.7 491.2v-2.4M150.2 491.6v-2.4M150.5 491.7v-2.4M155.3 492.7v-2.4M158.0 493.2v-2.4M158.1 493.2v-2.4M158.2 493.2v-2.4M158.8 493.4v-2.4M160.7 493.8v-2.4M161.5 494.0v-2.4M162.5 494.4v-2.4M162.6 494.4v-2.4M164.6 495.0v-2.4M166.8 495.4v-2.4M168.5 495.6v-2.4M169.2 495.7v-2.4M170.8 496.0v-2.4M171.6 496.1v-2.4M172.3 496.3v-2.4M176.1 497.0v-2.4M176.4 497.1v-2.4M176.6 497.1v-2.4M177.3 497.3v-2.4M177.4 497.3v-2.4M177.5 497.3v-2.4M178.0 497.4v-2.4M180.5 497.9v-2.4M181.7 498.1v-2.4M181.9 498.2v-2.4M184.0 498.6v-2.4M187.3 499.3v-2.4M189.5 499.7v-2.4M190.4 499.8v-2.4M190.7 499.9v-2.4M191.9 500.0v-2.4M192.1 500.0v-2.4M195.1 500.3v-2.4M196.6 500.5v-2.4M200.7 500.9v-2.4M202.5 501.1v-2.4M204.8 501.3v-2.4M205.9 501.4v-2.4M206.4 501.4v-2.4M206.6 501.5v-2.4M208.7 501.7v-2.4M209.1 501.7v-2.4M211.9 502.0v-2.4M214.3 502.2v-2.4M216.8 502.5v-2.4M219.4 502.7v-2.4M219.7 502.8v-2.4M221.1 502.9v-2.4M222.8 502.9v-2.4M223.1 503.0v-2.4M224.9 503.0v-2.4M225.7 503.1v-2.4M225.8 503.1v-2.4M226.2 503.1v-2.4M226.2 503.1v-2.4M226.7 503.1v-2.4M227.7 503.2v-2.4M230.2 503.3v-2.4M230.5 503.3v-2.4M231.6 503.3v-2.4M232.6 503.3v-2.4M234.8 503.4v-2.4M234.8 503.4v-2.4M234.9 503.4v-2.4M235.6 503.4v-2.4M235.9 503.4v-2.4M236.7 503.4v-2.4M236.8 503.4v-2.4M238.7 503.5v-2.4M238.8 503.5v-2.4M239.2 503.5v-2.4M239.9 503.5v-2.4M242.4 503.5v-2.4M242.8 503.5v-2.4M245.7 503.6v-2.4M246.4 503.6v-2.4M247.7 503.6v-2.4M249.3 503.6v-2.4M249.9 503.6v-2.4M250.3 503.7v-2.4M251.8 503.7v-2.4M256.5 503.8v-2.4M257.5 503.8v-2.4M258.0 503.8v-2.4M259.5 503.8v-2.4M261.4 503.9v-2.4M263.4 503.9v-2.4M264.5 504.0v-2.4M265.5 504.0v-2.4M268.5 504.1v-2.4M273.2 504.2v-2.4M274.5 504.3v-2.4M274.8 504.3v-2.4M274.9 504.3v-2.4M276.5 504.3v-2.4M279.2 504.4v-2.4M280.1 504.4v-2.4M280.2 504.4v-2.4M280.7 504.5v-2.4M281.8 504.5v-2.4M282.2 504.7v-2.4M287.5 507.0v-2.4M288.6 507.1v-2.4M289.4 507.2v-2.4M292.4 507.5v-2.4M293.1 507.6v-2.4M294.6 507.7v-2.4M297.1 508.0v-2.4M298.1 508.1v-2.4M298.8 508.2v-2.4M301.2 508.4v-2.4M305.7 508.7v-2.4M306.3 508.8v-2.4M306.7 508.8v-2.4M308.4 508.9v-2.4M308.7 508.9v-2.4M309.1 509.0v-2.4M309.4 509.0v-2.4M310.1 509.0v-2.4M313.4 509.2v-2.4M316.3 509.4v-2.4M318.0 509.5v-2.4M319.0 509.6v-2.4M319.1 509.6v-2.4M322.0 509.8v-2.4M322.4 509.8v-2.4M324.6 510.0v-2.4M325.2 510.0v-2.4M327.5 510.2v-2.4M328.5 510.2v-2.4M329.5 510.3v-2.4M329.8 510.3v-2.4M330.8 510.4v-2.4M330.9 510.4v-2.4M330.9 510.4v-2.4M331.6 510.4v-2.4M331.7 510.4v-2.4M331.7 510.4v-2.4M333.5 510.5v-2.4M334.0 510.6v-2.4M335.0 510.6v-2.4M335.0 510.6v-2.4M338.1 510.8v-2.4M339.3 510.9v-2.4M339.8 510.9v-2.4M342.0 511.1v-2.4M344.5 511.2v-2.4M347.3 511.5v-2.4M348.8 511.6v-2.4M349.3 511.7v-2.4M349.3 511.7v-2.4M350.6 511.8v-2.4M351.0 511.9v-2.4M351.6 511.9v-2.4M353.5 512.1v-2.4M354.3 512.2v-2.4M354.9 512.2v-2.4M355.7 512.3v-2.4M356.6 512.4v-2.4M357.5 512.5v-2.4M357.9 512.5v-2.4M358.0 512.5v-2.4M359.3 512.7v-2.4M359.6 512.7v-2.4M359.7 512.7v-2.4M361.5 512.9v-2.4M361.7 512.9v-2.4M361.9 512.9v-2.4M362.5 513.0v-2.4M365.4 513.0v-2.4M366.3 513.0v-2.4M368.4 513.1v-2.4M369.7 513.1v-2.4M370.0 513.1v-2.4M370.7 513.1v-2.4M371.1 513.1v-2.4M371.4 513.1v-2.4M379.2 513.3v-2.4M379.7 513.3v-2.4M379.7 513.3v-2.4M380.3 513.4v-2.4M380.7 513.4v-2.4M384.0 513.5v-2.4M387.9 514.5v-2.4M389.7 514.9v-2.4M390.3 514.9v-2.4M390.4 514.9v-2.4M392.2 514.9v-2.4M394.0 514.9v-2.4M394.1 514.9v-2.4M395.7 514.9v-2.4M395.8 514.9v-2.4M396.3 514.9v-2.4M397.1 514.9v-2.4M397.8 514.9v-2.4M399.9 514.9v-2.4M402.5 514.9v-2.4M403.0 514.9v-2.4M403.6 514.9v-2.4M407.8 514.9v-2.4M408.2 514.9v-2.4M409.1 514.9v-2.4M410.0 514.9v-2.4M412.7 515.8v-2.4M413.1 516.2v-2.4M414.5 516.4v-2.4M414.6 516.4v-2.4M415.8 516.4v-2.4M417.0 516.4v-2.4M419.2 516.4v-2.4M423.6 516.4v-2.4M424.4 516.4v-2.4M425.6 516.4v-2.4M428.9 516.4v-2.4M429.3 516.4v-2.4M435.8 516.4v-2.4M436.2 516.4v-2.4M440.7 516.4v-2.4M442.6 516.4v-2.4M445.7 516.4v-2.4M445.8 516.4v-2.4M450.6 516.4v-2.4M450.7 516.4v-2.4M451.6 516.4v-2.4M452.0 516.4v-2.4M453.0 517.0v-2.4M453.4 517.3v-2.4M453.6 517.4v-2.4M454.8 517.8v-2.4M455.0 517.8v-2.4M457.0 517.9v-2.4M459.6 518.0v-2.4M460.2 518.0v-2.4M462.8 518.1v-2.4M463.1 518.1v-2.4M465.6 518.1v-2.4M467.0 518.2v-2.4M467.1 518.2v-2.4M467.4 518.2v-2.4M470.2 518.3v-2.4M471.4 518.3v-2.4M472.1 518.3v-2.4M472.4 518.4v-2.4M472.6 518.4v-2.4M473.1 518.4v-2.4M474.2 518.8v-2.4M474.7 519.3v-2.4M474.9 519.5v-2.4M479.0 520.7v-2.4M479.9 520.7v-2.4M481.1 520.7v-2.4M481.6 520.7v-2.4M482.6 520.7v-2.4M484.6 520.7v-2.4M484.8 520.7v-2.4M485.2 520.7v-2.4M487.5 520.7v-2.4M488.0 520.7v-2.4M489.0 520.7v-2.4M489.3 520.7v-2.4M490.1 520.7v-2.4M491.5 520.7v-2.4M491.6 520.7v-2.4M495.5 520.7v-2.4M499.2 520.7v-2.4M500.2 520.7v-2.4M500.8 520.7v-2.4M502.1 520.7v-2.4M502.4 520.7v-2.4" fill="none" stroke="#232a36" stroke-width="1.0"/>
<polyline points="112.00,485.40 117.00,485.40 117.00,487.00 118.90,487.00 118.90,488.03 121.00,488.03 121.00,489.50 122.67,489.50 122.67,490.36 124.17,490.36 124.17,491.51 125.00,491.51 125.00,492.50 126.23,492.50 126.23,493.34 128.43,493.34 128.43,494.32 129.00,494.32 129.00,495.50 130.60,495.50 130.60,496.72 133.00,496.72 133.00,498.00 134.54,498.00 134.54,499.37 137.00,499.37 137.00,500.50 138.32,500.50 138.32,501.53 139.71,501.53 139.71,502.36 141.00,502.36 141.00,503.50 142.57,503.50 142.57,504.65 145.00,504.65 145.00,506.00 146.88,506.00 146.88,507.12 147.78,507.12 147.78,507.82 149.00,507.82 149.00,509.00 150.20,509.00 150.20,510.01 152.29,510.01 152.29,511.14 153.00,511.14 153.00,512.00 155.03,512.00 155.03,512.93 157.00,512.93 157.00,514.00 161.00,514.00 161.00,515.50 165.00,515.50 165.00,516.50 170.00,516.50 170.00,517.30 172.47,517.30 172.47,518.28 175.00,518.28 175.00,519.00 176.65,519.00 176.65,520.17 178.54,520.17 178.54,521.36 180.00,521.36 180.00,522.00 181.87,522.00 181.87,523.28 182.81,523.28 182.81,524.24 183.89,524.24 183.89,525.52 185.00,525.52 185.00,526.00 190.00,526.00 190.00,527.00 191.58,527.00 191.58,528.54 193.57,528.54 193.57,529.40 195.00,529.40 195.00,530.00 195.94,530.00 195.94,530.62 197.00,530.62 197.00,532.00 205.00,532.00 210.00,532.00 210.00,533.00 212.84,533.00 212.84,534.52 215.00,534.52 215.00,535.50 220.00,535.50 220.00,537.00 225.00,537.00 225.00,538.00 227.15,538.00 227.15,539.18 230.00,539.18 230.00,540.00 235.00,540.00 235.00,541.00 242.50,541.00 242.50,541.80 243.57,541.80 243.57,542.89 245.42,542.89 245.42,544.30 246.57,544.30 246.57,545.41 250.00,545.41 250.00,546.50 262.50,546.50 262.50,547.80 268.07,547.80 268.07,548.89 272.50,548.89 272.50,549.80 292.50,549.80 297.07,549.80 297.07,550.44 300.00,550.44 300.00,551.50 312.50,551.50 312.50,552.80 317.03,552.80 317.03,554.08 320.00,554.08 320.00,555.20 332.50,555.20 332.50,556.50 334.36,556.50 334.36,557.48 337.50,557.48 337.50,558.20 347.50,558.20 347.50,559.70 359.80,559.70 359.80,560.50 367.70,560.50 367.70,561.19 372.90,561.19 372.90,562.40 403.90,562.40 407.20,562.40 407.20,563.70 420.30,563.70 420.88,563.70 420.88,564.64 421.14,564.64 421.14,565.45 421.85,565.45 421.85,566.76 422.50,566.76 422.50,568.00 441.50,568.00 442.63,568.00 442.63,569.10 444.80,569.10 444.80,570.20 446.02,570.20 446.02,571.34 451.30,571.34 451.30,572.20 492.20,572.20 492.66,572.20 492.66,573.31 493.50,573.31 493.50,574.13 493.80,574.13 493.80,575.50 504.00,575.50" fill="none" stroke="#46a64e" stroke-width="1.5" stroke-linejoin="miter"/>
<path d="M129.2 496.0v-2.9M130.2 496.6v-2.9M132.5 498.0v-2.9M135.4 499.8v-2.9M135.4 499.8v-2.9M135.9 500.1v-2.9M137.4 501.1v-2.9M138.6 502.0v-2.9M138.9 502.2v-2.9M140.0 503.1v-2.9M142.9 505.0v-2.9M144.6 506.1v-2.9M145.8 506.9v-2.9M151.0 510.8v-2.9M151.2 511.0v-2.9M152.1 511.7v-2.9M153.6 512.6v-2.9M156.2 513.9v-2.9M156.6 514.1v-2.9M157.7 514.6v-2.9M158.2 514.8v-2.9M158.8 515.0v-2.9M159.6 515.3v-2.9M161.8 516.0v-2.9M165.7 516.9v-2.9M167.7 517.2v-2.9M173.4 518.7v-2.9M182.7 524.4v-2.9M187.6 526.8v-2.9M189.0 527.1v-2.9M189.7 527.2v-2.9M191.5 528.2v-2.9M192.8 529.0v-2.9M196.5 531.8v-2.9M197.4 532.3v-2.9M198.7 532.3v-2.9M202.7 532.3v-2.9M203.5 532.3v-2.9M204.9 532.3v-2.9M208.0 532.9v-2.9M208.7 533.0v-2.9M212.4 534.5v-2.9M213.5 535.1v-2.9M217.4 536.5v-2.9M217.7 536.6v-2.9M217.9 536.7v-2.9M218.3 536.8v-2.9M218.3 536.8v-2.9M227.0 539.1v-2.9M233.6 541.0v-2.9M236.9 541.5v-2.9M244.9 543.6v-2.9M245.3 543.9v-2.9M250.1 546.8v-2.9M250.1 546.8v-2.9M252.8 547.1v-2.9M256.9 547.5v-2.9M260.0 547.8v-2.9M262.2 548.1v-2.9M264.6 548.5v-2.9M266.6 548.9v-2.9M267.5 549.1v-2.9M270.1 549.6v-2.9M274.2 550.1v-2.9M276.2 550.1v-2.9M282.6 550.1v-2.9M290.2 550.1v-2.9M291.0 550.1v-2.9M298.0 551.3v-2.9M299.0 551.6v-2.9M300.3 551.8v-2.9M301.8 552.0v-2.9M309.7 552.8v-2.9M311.7 553.0v-2.9M319.6 555.4v-2.9M319.7 555.4v-2.9M320.1 555.5v-2.9M320.4 555.5v-2.9M321.5 555.7v-2.9M323.4 555.9v-2.9M324.4 556.0v-2.9M329.8 556.5v-2.9M330.6 556.6v-2.9M330.7 556.6v-2.9M332.5 556.8v-2.9M334.9 557.6v-2.9M335.2 557.7v-2.9M341.2 559.0v-2.9M341.8 559.1v-2.9M353.8 560.4v-2.9M357.4 560.6v-2.9M359.3 560.8v-2.9M362.5 561.2v-2.9M363.4 561.3v-2.9M365.6 561.6v-2.9M367.8 562.0v-2.9M368.8 562.1v-2.9M369.8 562.3v-2.9M371.8 562.5v-2.9M376.2 562.7v-2.9M377.0 562.7v-2.9M377.1 562.7v-2.9M377.8 562.7v-2.9M380.8 562.7v-2.9M381.2 562.7v-2.9M381.3 562.7v-2.9M381.4 562.7v-2.9M381.9 562.7v-2.9M382.0 562.7v-2.9M383.9 562.7v-2.9M385.1 562.7v-2.9M387.5 562.7v-2.9M388.7 562.7v-2.9M389.9 562.7v-2.9M390.5 562.7v-2.9M392.1 562.7v-2.9M394.8 562.7v-2.9M396.3 562.7v-2.9M397.3 562.7v-2.9M397.8 562.7v-2.9M399.3 562.7v-2.9M399.9 562.7v-2.9M400.6 562.7v-2.9M403.8 562.7v-2.9M406.4 563.7v-2.9M408.6 564.0v-2.9M417.8 564.0v-2.9M419.7 564.0v-2.9M422.3 567.9v-2.9M424.0 568.3v-2.9M429.8 568.3v-2.9M434.0 568.3v-2.9M434.9 568.3v-2.9M437.6 568.3v-2.9M439.4 568.3v-2.9M440.1 568.3v-2.9M441.6 568.3v-2.9M444.1 570.0v-2.9M446.3 571.0v-2.9M448.9 571.8v-2.9M450.0 572.1v-2.9M450.4 572.2v-2.9M450.8 572.3v-2.9M453.1 572.5v-2.9M459.2 572.5v-2.9M462.7 572.5v-2.9M464.4 572.5v-2.9M464.7 572.5v-2.9M467.4 572.5v-2.9M469.5 572.5v-2.9M470.2 572.5v-2.9M470.6 572.5v-2.9M472.4 572.5v-2.9M474.0 572.5v-2.9M474.5 572.5v-2.9M476.4 572.5v-2.9M476.9 572.5v-2.9M477.4 572.5v-2.9M477.5 572.5v-2.9M484.1 572.5v-2.9M489.4 572.5v-2.9M491.3 572.5v-2.9M492.5 573.1v-2.9" fill="none" stroke="#23742f" stroke-width="1.0"/>
<polyline points="112.00,485.40 114.47,485.40 114.47,486.22 117.00,486.22 117.00,488.00 118.00,488.00 118.00,489.25 118.99,489.25 118.99,490.58 119.87,490.58 119.87,491.45 121.00,491.45 121.00,492.00 122.10,492.00 122.10,493.31 122.97,493.31 122.97,494.39 124.05,494.39 124.05,494.90 125.00,494.90 125.00,496.00 125.97,496.00 125.97,497.35 127.55,497.35 127.55,498.27 128.00,498.27 128.00,499.00 128.86,499.00 128.86,499.99 129.98,499.99 129.98,501.06 130.32,501.06 130.32,502.43 131.00,502.43 131.00,503.00 131.69,503.00 131.69,504.34 132.03,504.34 132.03,505.12 133.03,505.12 133.03,506.25 134.00,506.25 134.00,507.50 135.03,507.50 135.03,508.64 136.25,508.64 136.25,509.68 137.00,509.68 137.00,511.00 137.95,511.00 137.95,511.84 139.19,511.84 139.19,513.20 140.00,513.20 140.00,514.00 140.71,514.00 140.71,514.95 141.69,514.95 141.69,515.94 143.00,515.94 143.00,517.00 143.78,517.00 143.78,518.18 144.30,518.18 144.30,519.24 145.13,519.24 145.13,520.02 146.00,520.02 146.00,521.00 146.97,521.00 146.97,521.93 147.95,521.93 147.95,522.68 149.00,522.68 149.00,524.00 149.86,524.00 149.86,524.76 150.53,524.76 150.53,525.95 151.60,525.95 151.60,526.69 152.00,526.69 152.00,528.00 152.78,528.00 152.78,529.41 153.80,529.41 153.80,530.30 155.00,530.30 155.00,531.00 157.30,531.00 157.30,532.02 158.00,532.02 158.00,533.00 160.18,533.00 160.18,534.35 161.00,534.35 161.00,535.00 162.44,535.00 162.44,535.96 163.00,535.96 163.00,537.50 166.00,537.50 166.00,539.00 170.00,539.00 170.00,540.50 171.92,540.50 171.92,541.15 173.56,541.15 173.56,542.31 175.00,542.31 175.00,543.50 175.65,543.50 175.65,544.48 176.91,544.48 176.91,545.05 178.00,545.05 178.00,546.50 178.72,546.50 178.72,547.53 179.37,547.53 179.37,548.53 181.00,548.53 181.00,550.00 182.21,550.00 182.21,550.49 184.51,550.49 184.51,551.75 185.00,551.75 185.00,553.00 187.17,553.00 187.17,554.19 188.30,554.19 188.30,555.12 190.00,555.12 190.00,556.00 191.42,556.00 191.42,557.66 195.00,557.66 195.00,558.50 200.00,558.50 200.00,560.00 201.29,560.00 201.29,560.76 205.00,560.76 205.00,562.00 207.42,562.00 207.42,563.24 210.00,563.24 210.00,564.50 211.00,564.50 211.00,565.33 213.08,565.33 213.08,566.13 215.00,566.13 215.00,567.50 217.20,567.50 217.20,568.86 217.95,568.86 217.95,570.16 220.00,570.16 220.00,571.00 221.48,571.00 221.48,572.19 223.27,572.19 223.27,573.13 225.00,573.13 225.00,574.00 227.48,574.00 227.48,575.21 230.00,575.21 230.00,576.00 240.00,576.00 240.69,576.00 240.69,576.99 242.00,576.99 242.00,578.00 243.79,578.00 243.79,578.75 245.00,578.75 245.00,580.00 255.00,580.50 260.00,581.00 265.00,581.00 265.00,582.00 270.00,582.50 275.00,582.50 275.00,584.00 276.96,584.00 276.96,585.16 278.00,585.16 278.00,586.00 283.00,586.00 283.00,587.00 284.58,587.00 284.58,587.92 288.00,587.92 288.00,589.00 297.00,589.00 298.53,589.00 298.53,590.02 300.00,590.02 300.00,591.00 318.00,591.50 321.00,591.50 321.00,593.00 325.00,593.00 325.00,594.50 387.50,594.50 388.03,594.50 388.03,595.82 388.75,595.82 388.75,597.00 405.00,597.00 405.50,599.50 421.25,599.50 421.74,599.50 421.74,600.98 422.50,600.98 422.50,602.00 473.75,602.00 474.04,602.00 474.04,603.45 474.43,603.45 474.43,604.51 474.59,604.51 474.59,605.83 475.00,605.83 475.00,606.75 504.00,606.75" fill="none" stroke="#eea535" stroke-width="1.45" stroke-linejoin="miter"/>
<path d="M126.3 497.6v-2.9M131.1 503.4v-2.9M131.5 504.1v-2.9M138.2 512.5v-2.9M143.6 518.1v-2.9M148.9 524.2v-2.9M152.6 528.9v-2.9M162.9 537.7v-2.9M168.0 540.0v-2.9M174.9 543.8v-2.9M176.6 545.4v-2.9M176.8 545.6v-2.9M191.2 556.9v-2.9M195.3 558.9v-2.9M205.9 562.8v-2.9M211.1 565.5v-2.9M222.9 573.0v-2.9M226.9 575.0v-2.9M227.1 575.1v-2.9M231.2 576.3v-2.9M232.8 576.3v-2.9M238.1 576.3v-2.9M238.4 576.3v-2.9M240.9 577.2v-2.9M241.7 578.0v-2.9M242.0 578.3v-2.9M244.9 580.3v-2.9M251.3 580.6v-2.9M251.6 580.6v-2.9M253.4 580.7v-2.9M255.7 580.9v-2.9M258.6 581.2v-2.9M266.7 582.5v-2.9M267.0 582.5v-2.9M268.9 582.7v-2.9M269.3 582.7v-2.9M273.7 583.9v-2.9M277.8 586.2v-2.9M280.9 586.9v-2.9M281.5 587.0v-2.9M283.3 587.4v-2.9M285.8 588.4v-2.9M287.0 588.9v-2.9M288.7 589.3v-2.9M289.3 589.3v-2.9M292.4 589.3v-2.9M294.7 589.3v-2.9M299.8 591.2v-2.9M301.6 591.3v-2.9M304.8 591.4v-2.9M306.1 591.5v-2.9M307.2 591.5v-2.9M312.0 591.6v-2.9M312.9 591.7v-2.9M314.4 591.7v-2.9M317.2 591.8v-2.9M324.2 594.5v-2.9M328.4 594.8v-2.9M333.2 594.8v-2.9M340.3 594.8v-2.9M342.0 594.8v-2.9M342.7 594.8v-2.9M344.7 594.8v-2.9M346.9 594.8v-2.9M356.1 594.8v-2.9M360.9 594.8v-2.9M362.8 594.8v-2.9M366.5 594.8v-2.9M369.9 594.8v-2.9M373.3 594.8v-2.9M377.5 594.8v-2.9M378.0 594.8v-2.9M378.0 594.8v-2.9M379.7 594.8v-2.9M383.6 594.8v-2.9M385.8 594.8v-2.9M395.7 597.3v-2.9M396.4 597.3v-2.9M397.2 597.3v-2.9M400.3 597.3v-2.9M401.0 597.3v-2.9M405.3 598.9v-2.9M406.8 599.8v-2.9M409.2 599.8v-2.9M412.8 599.8v-2.9M415.5 599.8v-2.9M416.1 599.8v-2.9M416.2 599.8v-2.9M420.2 599.8v-2.9M420.4 599.8v-2.9M420.7 599.8v-2.9M420.9 599.8v-2.9M428.8 602.3v-2.9M429.5 602.3v-2.9M433.9 602.3v-2.9M434.3 602.3v-2.9M443.3 602.3v-2.9M444.1 602.3v-2.9M444.4 602.3v-2.9M446.2 602.3v-2.9M446.5 602.3v-2.9M448.3 602.3v-2.9M452.2 602.3v-2.9M452.4 602.3v-2.9M453.5 602.3v-2.9M454.2 602.3v-2.9M454.8 602.3v-2.9M455.8 602.3v-2.9M462.1 602.3v-2.9M469.6 602.3v-2.9M470.2 602.3v-2.9M472.3 602.3v-2.9M473.9 602.8v-2.9M475.5 607.0v-2.9M475.6 607.0v-2.9M481.2 607.0v-2.9M482.2 607.0v-2.9M482.9 607.0v-2.9M489.4 607.0v-2.9M490.7 607.0v-2.9M491.8 607.0v-2.9M495.3 607.0v-2.9M496.5 607.0v-2.9M501.5 607.0v-2.9M501.6 607.0v-2.9M501.6 607.0v-2.9" fill="none" stroke="#b8741a" stroke-width="1.0"/>
<polyline points="112.00,485.40 112.65,485.40 112.65,487.13 113.77,487.13 113.77,488.11 114.00,488.11 114.00,489.00 114.47,489.00 114.47,489.63 114.97,489.63 114.97,490.62 115.70,490.62 115.70,491.75 116.00,491.75 116.00,493.00 116.36,493.00 116.36,494.25 116.95,494.25 116.95,495.73 117.08,495.73 117.08,497.21 117.51,497.21 117.51,498.28 118.00,498.28 118.00,499.00 118.43,499.00 118.43,500.43 118.92,500.43 118.92,501.65 119.30,501.65 119.30,502.46 120.00,502.46 120.00,503.50 120.36,503.50 120.36,504.43 121.01,504.43 121.01,505.58 122.00,505.58 122.00,507.00 122.55,507.00 122.55,508.52 122.95,508.52 122.95,510.02 123.13,510.02 123.13,511.32 123.58,511.32 123.58,512.19 124.00,512.19 124.00,513.00 124.30,513.00 124.30,514.43 124.61,514.43 124.61,515.48 124.74,515.48 124.74,517.29 125.10,517.29 125.10,518.00 125.50,518.00 125.50,519.00 125.73,519.00 125.73,519.78 126.22,519.78 126.22,521.45 126.85,521.45 126.85,522.49 127.00,522.49 127.00,523.50 127.81,523.50 127.81,524.49 128.90,524.49 128.90,525.75 130.00,525.75 130.00,527.00 131.47,527.00 131.47,528.41 131.91,528.41 131.91,529.37 133.00,529.37 133.00,530.00 133.92,530.00 133.92,531.05 134.30,531.05 134.30,532.12 136.00,532.12 136.00,533.00 136.57,533.00 136.57,533.90 137.42,533.90 137.42,535.27 137.97,535.27 137.97,536.40 139.00,536.40 139.00,537.00 139.40,537.00 139.40,537.57 139.75,537.57 139.75,538.95 140.93,538.95 140.93,540.15 142.00,540.15 142.00,541.00 142.43,541.00 142.43,541.66 142.78,541.66 142.78,543.00 143.94,543.00 143.94,543.86 145.00,543.86 145.00,545.00 146.32,545.00 146.32,546.52 147.50,546.52 147.50,547.60 148.00,547.60 148.00,548.50 149.30,548.50 149.30,550.08 151.00,550.08 151.00,551.00 152.79,551.00 152.79,551.72 154.01,551.72 154.01,552.76 155.00,552.76 155.00,554.00 156.53,554.00 156.53,555.59 157.20,555.59 157.20,556.27 158.35,556.27 158.35,556.99 158.98,556.99 158.98,558.11 160.00,558.11 160.00,559.50 163.19,559.50 163.19,560.41 165.00,560.41 165.00,562.00 166.48,562.00 166.48,563.59 168.05,563.59 168.05,564.37 170.00,564.37 170.00,565.50 172.03,565.50 172.03,566.81 173.67,566.81 173.67,567.82 175.00,567.82 175.00,569.00 175.52,569.00 175.52,570.34 176.86,570.34 176.86,571.32 177.49,571.32 177.49,571.88 178.66,571.88 178.66,573.35 180.00,573.35 180.00,574.00 180.57,574.00 180.57,574.83 181.18,574.83 181.18,575.85 181.85,575.85 181.85,577.15 183.16,577.15 183.16,578.01 184.00,578.01 184.00,579.00 185.02,579.00 185.02,579.82 186.96,579.82 186.96,580.58 188.00,580.58 188.00,582.00 190.13,582.00 190.13,583.14 191.04,583.14 191.04,584.18 192.00,584.18 192.00,585.50 194.06,585.50 194.06,586.50 195.02,586.50 195.02,587.84 196.00,587.84 196.00,589.00 196.46,589.00 196.46,590.16 197.16,590.16 197.16,591.29 197.73,591.29 197.73,592.00 199.00,592.00 199.00,593.00 200.76,593.00 200.76,593.75 203.00,593.75 203.00,595.00 205.80,595.00 205.80,595.81 207.00,595.81 207.00,597.50 210.23,597.50 210.23,598.73 211.00,598.73 211.00,599.50 215.00,600.00 217.37,600.00 217.37,600.87 220.00,600.87 220.00,602.00 223.16,602.00 223.16,602.65 225.00,602.65 225.00,604.00 227.41,604.00 227.41,605.21 230.00,605.21 230.00,606.50 231.87,606.50 231.87,607.18 233.71,607.18 233.71,608.86 235.00,608.86 235.00,609.50 236.60,609.50 236.60,610.90 240.00,610.90 240.00,612.00 240.26,612.00 240.26,612.90 240.96,612.90 240.96,613.95 241.72,613.95 241.72,615.11 242.24,615.11 242.24,615.78 243.00,615.78 243.00,617.00 244.00,617.00 244.00,618.00 289.40,618.00 289.60,620.00 293.75,620.00 294.00,622.00 296.90,622.00 297.10,624.40 319.40,624.40 319.65,624.40 319.65,625.24 320.11,625.24 320.11,626.15 320.50,626.15 320.50,628.00 321.11,628.00 321.11,629.57 321.68,629.57 321.68,630.33 322.00,630.33 322.00,631.00 322.54,631.00 322.54,631.90 323.10,631.90 323.10,633.10 374.30,633.10 374.65,633.10 374.65,633.85 374.82,633.85 374.82,634.87 375.00,634.87 375.00,636.60 382.00,636.60 382.04,636.60 382.04,637.67 382.21,637.67 382.21,639.23 382.40,639.23 382.40,640.51 382.59,640.51 382.59,641.20 382.79,641.20 382.79,642.54 382.89,642.54 382.89,644.09 383.00,644.09 383.00,644.80 394.50,644.80 394.73,644.80 394.73,645.67 394.98,645.67 394.98,646.79 395.21,646.79 395.21,647.98 395.40,647.98 395.40,649.10 417.60,649.10 417.70,649.10 417.70,650.43 417.98,650.43 417.98,651.68 418.20,651.68 418.20,653.06 418.35,653.06 418.35,653.87 418.50,653.87 418.50,654.90 437.80,654.90 437.91,654.90 437.91,656.13 438.10,656.13 438.10,656.86 438.24,656.86 438.24,658.14 438.33,658.14 438.33,659.22 438.40,659.22 438.40,660.48 438.60,660.48 438.60,661.20 447.30,661.20 447.90,669.30 504.10,669.30" fill="none" stroke="#c02c58" stroke-width="1.45" stroke-linejoin="miter"/>
<path d="M152.7 552.6v-2.9M168.0 564.4v-2.9M168.1 564.5v-2.9M177.4 571.7v-2.9M178.8 573.1v-2.9M179.8 574.1v-2.9M183.0 578.1v-2.9M186.8 581.4v-2.9M199.5 593.5v-2.9M200.8 594.2v-2.9M201.9 594.7v-2.9M206.2 597.3v-2.9M213.3 600.1v-2.9M225.6 604.6v-2.9M228.2 605.9v-2.9M237.7 611.2v-2.9M237.8 611.2v-2.9M241.7 615.1v-2.9M246.9 618.3v-2.9M250.6 618.3v-2.9M257.3 618.3v-2.9M263.9 618.3v-2.9M266.3 618.3v-2.9M266.8 618.3v-2.9M269.4 618.3v-2.9M272.7 618.3v-2.9M274.7 618.3v-2.9M283.5 618.3v-2.9M288.9 618.3v-2.9M292.1 620.3v-2.9M293.0 620.3v-2.9M295.1 622.3v-2.9M295.3 622.3v-2.9M296.6 622.3v-2.9M299.6 624.7v-2.9M300.9 624.7v-2.9M303.5 624.7v-2.9M308.3 624.7v-2.9M313.6 624.7v-2.9M316.2 624.7v-2.9M316.6 624.7v-2.9M319.9 626.3v-2.9M322.8 632.8v-2.9M342.4 633.4v-2.9M356.3 633.4v-2.9M362.5 633.4v-2.9M364.3 633.4v-2.9M365.8 633.4v-2.9M370.2 633.4v-2.9M375.1 636.9v-2.9M375.9 636.9v-2.9M382.9 644.3v-2.9M395.2 648.2v-2.9M399.8 649.4v-2.9M401.7 649.4v-2.9M418.5 655.2v-2.9M418.9 655.2v-2.9M425.0 655.2v-2.9M449.8 669.6v-2.9M496.7 669.6v-2.9M497.3 669.6v-2.9M500.3 669.6v-2.9" fill="none" stroke="#9c1539" stroke-width="1.0"/>
<text transform="translate(8.50 770.30) scale(1.03 1)" font-size="9.2">Number at risk</text>
<text transform="translate(8.50 785.00) scale(1.015 1)" font-size="9.2">Low (0-1)</text>
<text transform="translate(112.20 785.00) scale(1.1 1)" font-size="9.2" text-anchor="middle">940</text>
<text transform="translate(151.29 785.00) scale(1.1 1)" font-size="9.2" text-anchor="middle">903</text>
<text transform="translate(190.38 785.00) scale(1.1 1)" font-size="9.2" text-anchor="middle">815</text>
<text transform="translate(229.47 785.00) scale(1.1 1)" font-size="9.2" text-anchor="middle">714</text>
<text transform="translate(268.56 785.00) scale(1.1 1)" font-size="9.2" text-anchor="middle">577</text>
<text transform="translate(307.65 785.00) scale(1.1 1)" font-size="9.2" text-anchor="middle">432</text>
<text transform="translate(346.74 785.00) scale(1.1 1)" font-size="9.2" text-anchor="middle">341</text>
<text transform="translate(385.83 785.00) scale(1.1 1)" font-size="9.2" text-anchor="middle">238</text>
<text transform="translate(424.92 785.00) scale(1.1 1)" font-size="9.2" text-anchor="middle">190</text>
<text transform="translate(464.01 785.00) scale(1.1 1)" font-size="9.2" text-anchor="middle">140</text>
<text transform="translate(503.10 785.00) scale(1.1 1)" font-size="9.2" text-anchor="middle">107</text>
<text transform="translate(8.50 799.33) scale(1.015 1)" font-size="9.2">Low-intermediate (2)</text>
<text transform="translate(112.20 799.33) scale(1.1 1)" font-size="9.2" text-anchor="middle">392</text>
<text transform="translate(151.29 799.33) scale(1.1 1)" font-size="9.2" text-anchor="middle">339</text>
<text transform="translate(190.38 799.33) scale(1.1 1)" font-size="9.2" text-anchor="middle">292</text>
<text transform="translate(229.47 799.33) scale(1.1 1)" font-size="9.2" text-anchor="middle">243</text>
<text transform="translate(268.56 799.33) scale(1.1 1)" font-size="9.2" text-anchor="middle">182</text>
<text transform="translate(307.65 799.33) scale(1.1 1)" font-size="9.2" text-anchor="middle">142</text>
<text transform="translate(346.74 799.33) scale(1.1 1)" font-size="9.2" text-anchor="middle">117</text>
<text transform="translate(385.83 799.33) scale(1.1 1)" font-size="9.2" text-anchor="middle">99</text>
<text transform="translate(424.92 799.33) scale(1.1 1)" font-size="9.2" text-anchor="middle">77</text>
<text transform="translate(464.01 799.33) scale(1.1 1)" font-size="9.2" text-anchor="middle">65</text>
<text transform="translate(503.10 799.33) scale(1.1 1)" font-size="9.2" text-anchor="middle">48</text>
<text transform="translate(8.50 813.66) scale(1.015 1)" font-size="9.2">High-intermediate (3)</text>
<text transform="translate(112.20 813.66) scale(1.1 1)" font-size="9.2" text-anchor="middle">354</text>
<text transform="translate(151.29 813.66) scale(1.1 1)" font-size="9.2" text-anchor="middle">293</text>
<text transform="translate(190.38 813.66) scale(1.1 1)" font-size="9.2" text-anchor="middle">233</text>
<text transform="translate(229.47 813.66) scale(1.1 1)" font-size="9.2" text-anchor="middle">179</text>
<text transform="translate(268.56 813.66) scale(1.1 1)" font-size="9.2" text-anchor="middle">133</text>
<text transform="translate(307.65 813.66) scale(1.1 1)" font-size="9.2" text-anchor="middle">96</text>
<text transform="translate(346.74 813.66) scale(1.1 1)" font-size="9.2" text-anchor="middle">81</text>
<text transform="translate(385.83 813.66) scale(1.1 1)" font-size="9.2" text-anchor="middle">63</text>
<text transform="translate(424.92 813.66) scale(1.1 1)" font-size="9.2" text-anchor="middle">43</text>
<text transform="translate(464.01 813.66) scale(1.1 1)" font-size="9.2" text-anchor="middle">30</text>
<text transform="translate(503.10 813.66) scale(1.1 1)" font-size="9.2" text-anchor="middle">24</text>
<text transform="translate(8.50 827.99) scale(1.015 1)" font-size="9.2">High (4-5)</text>
<text transform="translate(112.20 827.99) scale(1.1 1)" font-size="9.2" text-anchor="middle">246</text>
<text transform="translate(151.29 827.99) scale(1.1 1)" font-size="9.2" text-anchor="middle">75</text>
<text transform="translate(190.38 827.99) scale(1.1 1)" font-size="9.2" text-anchor="middle">127</text>
<text transform="translate(229.47 827.99) scale(1.1 1)" font-size="9.2" text-anchor="middle">92</text>
<text transform="translate(268.56 827.99) scale(1.1 1)" font-size="9.2" text-anchor="middle">65</text>
<text transform="translate(307.65 827.99) scale(1.1 1)" font-size="9.2" text-anchor="middle">39</text>
<text transform="translate(346.74 827.99) scale(1.1 1)" font-size="9.2" text-anchor="middle">30</text>
<text transform="translate(385.83 827.99) scale(1.1 1)" font-size="9.2" text-anchor="middle">21</text>
<text transform="translate(424.92 827.99) scale(1.1 1)" font-size="9.2" text-anchor="middle">12</text>
<text transform="translate(464.01 827.99) scale(1.1 1)" font-size="9.2" text-anchor="middle">8</text>
<text transform="translate(503.10 827.99) scale(1.1 1)" font-size="9.2" text-anchor="middle">7</text>
<rect x="0.5" y="0.5" width="519" height="838" fill="none" stroke="#333" stroke-width="1"/>
</svg>
</body></html>
